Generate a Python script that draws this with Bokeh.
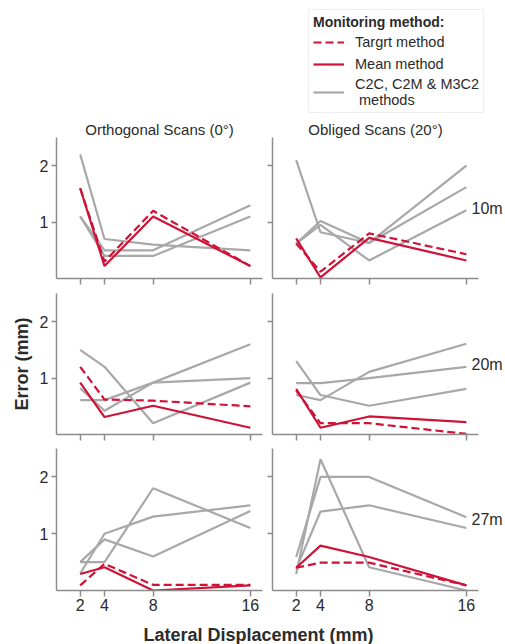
from bokeh.plotting import figure
from bokeh.models import Range1d, FixedTicker, Legend, LegendItem, Label, LinearAxis, Title
from bokeh.layouts import column, row
from bokeh.embed import file_html
from bokeh.resources import INLINE

FONT = "Liberation Sans"
RED = "#cf1237"
GRAY = "#a8a8a8"
AXIS = "#8c8c8c"
TXT = "#2b2b2b"

# ---------------- data ----------------
x_disp = [2, 4, 8, 16]
x_ticks = [2, 4, 8, 16]
y_ticks = [1, 2]
col_titles = ["Orthogonal Scans (0°)", "Obliged Scans (20°)"]
row_labels = ["10m", "20m", "27m"]
legend_title = "Monitoring method:"
legend_labels = ["Targrt method", "Mean method", "C2C, C2M & M3C2\n methods"]

# 10 m, orthogonal
target_orth_10 = [1.6, 0.3, 1.2, 0.22]
mean_orth_10 = [1.6, 0.22, 1.1, 0.22]
clouds_orth_10 = [[2.2, 0.7, 0.6, 0.5], [1.1, 0.5, 0.5, 1.3], [1.1, 0.4, 0.4, 1.1]]
# 10 m, obliged
target_obl_10 = [0.62, 0.12, 0.8, 0.43]
mean_obl_10 = [0.71, 0.02, 0.72, 0.32]
clouds_obl_10 = [[2.1, 0.82, 0.63, 2.0], [0.62, 1.02, 0.63, 1.62], [0.62, 0.95, 0.32, 1.21]]
# 20 m, orthogonal
target_orth_20 = [1.2, 0.62, 0.6, 0.5]
mean_orth_20 = [0.92, 0.31, 0.51, 0.12]
clouds_orth_20 = [[1.5, 1.2, 0.2, 0.92], [0.82, 0.42, 0.92, 1.6], [0.61, 0.61, 0.92, 1.0]]
# 20 m, obliged
target_obl_20 = [0.78, 0.2, 0.2, 0.01]
mean_obl_20 = [0.81, 0.12, 0.32, 0.22]
clouds_obl_20 = [[1.3, 0.7, 0.51, 0.81], [0.91, 0.91, 1.0, 1.2], [0.7, 0.61, 1.11, 1.61]]
# 27 m, orthogonal
target_orth_27 = [0.09, 0.47, 0.1, 0.1]
mean_orth_27 = [0.29, 0.41, 0.0, 0.09]
clouds_orth_27 = [[0.5, 0.5, 1.8, 1.1], [0.3, 1.0, 1.3, 1.5], [0.5, 0.9, 0.6, 1.4]]
# 27 m, obliged
target_obl_27 = [0.4, 0.49, 0.49, 0.09]
mean_obl_27 = [0.4, 0.79, 0.59, 0.09]
clouds_obl_27 = [[0.29, 2.31, 0.41, 0.0], [0.59, 2.0, 2.0, 1.29], [0.38, 1.39, 1.5, 1.1]]

panels = [
    [(target_orth_10, mean_orth_10, clouds_orth_10), (target_obl_10, mean_obl_10, clouds_obl_10)],
    [(target_orth_20, mean_orth_20, clouds_orth_20), (target_obl_20, mean_obl_20, clouds_obl_20)],
    [(target_orth_27, mean_orth_27, clouds_orth_27), (target_obl_27, mean_obl_27, clouds_obl_27)],
]

# ---------------- layout ----------------
col_w = [267, 238]
border_l = [56, 5]
border_r = [5, 27]
row_h = [176, 155, 170]
border_t = [21, 1, 1]
border_b = [14, 13, 27]

LINE_W = 2.2
DASH = "8 4"


def hide_labels(ax):
    ax.major_label_text_font_size = "0px"
    ax.major_label_text_color = None
    ax.major_label_standoff = 0


def make_panel(r, c):
    target, mean, clouds = panels[r][c]
    p = figure(width=col_w[c], height=row_h[r],
               x_range=Range1d(0.05, 17), y_range=Range1d(0, 2.5),
               output_backend="svg", toolbar_location=None,
               min_border_left=border_l[c], min_border_right=border_r[c],
               min_border_top=border_t[r], min_border_bottom=border_b[r])
    p.outline_line_color = None
    p.grid.visible = False
    p.background_fill_color = "white"
    p.border_fill_color = "white"

    for ys in clouds:
        p.line(x_disp, ys, line_color=GRAY, line_width=LINE_W)
    p.line(x_disp, target, line_color=RED, line_width=LINE_W, line_dash=DASH)
    p.line(x_disp, mean, line_color=RED, line_width=LINE_W)

    for ax in (p.xaxis[0], p.yaxis[0]):
        ax.axis_line_color = AXIS
        ax.axis_line_width = 1.5
        ax.major_tick_line_color = AXIS
        ax.major_tick_line_width = 1.5
        ax.major_tick_in = 0
        ax.minor_tick_line_color = None
        ax.major_label_text_font = FONT
        ax.major_label_text_color = TXT
        ax.major_label_text_font_size = "16px"
    p.xaxis.ticker = FixedTicker(ticks=x_ticks)
    p.yaxis.ticker = FixedTicker(ticks=y_ticks)
    p.xaxis.major_tick_out = 6
    p.yaxis.major_tick_out = 5
    p.xaxis.major_label_standoff = 2
    p.yaxis.major_label_standoff = 3

    if r < 2:
        hide_labels(p.xaxis[0])
    if c == 1:
        hide_labels(p.yaxis[0])
        # row label drawn as a label-only axis on the right side
        lab_ax = LinearAxis(ticker=FixedTicker(ticks=[1.25]),
                            major_label_overrides={1.25: row_labels[r]},
                            axis_line_color=None, major_tick_line_color=None,
                            minor_tick_line_color=None, major_tick_out=0,
                            major_tick_in=0, major_label_standoff=-7,
                            major_label_text_font=FONT,
                            major_label_text_font_size="16px",
                            major_label_text_color=TXT)
        p.add_layout(lab_ax, "right")
    if r == 0:
        p.title.text = col_titles[c]
        p.title.align = "center"
        p.title.text_font = FONT
        p.title.text_font_size = "15px"
        p.title.text_font_style = "normal"
        p.title.text_color = TXT
        p.title.standoff = 0
    if r == 1 and c == 0:
        p.add_layout(Title(text="Error (mm)", align="center", offset=22,
                           text_font=FONT, text_font_size="18px",
                           text_font_style="bold", text_color=TXT,
                           standoff=10), "left")
    return p


grid_rows = [row(*[make_panel(r, c) for c in range(2)]) for r in range(3)]

# ---------------- legend figure ----------------
# legend proxies: real series drawn outside this figure's visible ranges
lf = figure(width=505, height=116, x_range=Range1d(-10, -9), y_range=Range1d(-10, -9),
            output_backend="svg", toolbar_location=None, min_border=0,
            x_axis_location=None, y_axis_location=None)
lf.outline_line_color = None
lf.grid.visible = False
r_t = lf.line(x_disp, target_orth_10, line_color=RED, line_width=LINE_W, line_dash=DASH)
r_m = lf.line(x_disp, mean_orth_10, line_color=RED, line_width=LINE_W)
r_c = lf.line(x_disp, clouds_orth_10[0], line_color=GRAY, line_width=LINE_W)
legend = Legend(items=[LegendItem(label=legend_labels[0], renderers=[r_t]),
                       LegendItem(label=legend_labels[1], renderers=[r_m]),
                       LegendItem(label=legend_labels[2], renderers=[r_c])],
                location=(308, 3), title=legend_title,
                title_text_font=FONT, title_text_font_size="14px",
                title_text_font_style="bold", title_text_color=TXT,
                title_standoff=2,
                label_text_font=FONT, label_text_font_size="14.5px",
                label_text_color=TXT, glyph_width=31, label_standoff=11,
                padding=4, spacing=2, margin=0,
                border_line_color="#dddddd", border_line_width=1,
                background_fill_color="white")
lf.add_layout(legend)

# ---------------- x label figure ----------------
xf = figure(width=505, height=27, x_range=Range1d(0, 1), y_range=Range1d(0, 1),
            output_backend="svg", toolbar_location=None, min_border=0,
            x_axis_location=None, y_axis_location=None)
xf.outline_line_color = None
xf.grid.visible = False
xf.add_layout(Label(x=258, y=10, x_units="screen", y_units="screen",
                    text="Lateral Displacement (mm)", text_font=FONT,
                    text_font_size="18px", text_font_style="bold",
                    text_color=TXT, text_align="center", text_baseline="middle"))

layout = column(lf, *grid_rows, xf)

open("out.html", "w").write(file_html(layout, INLINE))
